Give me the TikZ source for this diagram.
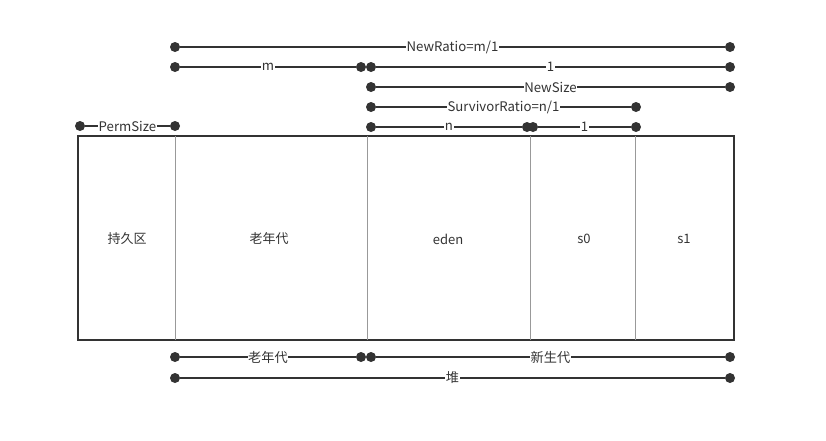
\documentclass[tikz,border=0pt]{standalone}
\usepackage{fontspec}
\setmainfont{Noto Sans CJK SC}
\definecolor{ink}{HTML}{333333}
\definecolor{thin}{HTML}{999999}
\begin{document}
\begin{tikzpicture}[x=1pt,y=-1pt,
  dot/.style={circle,fill=ink,inner sep=0pt,minimum size=10pt},
  dim/.style={draw=ink,line width=1.8pt},
  lbl/.style={fill=white,inner sep=0.5pt,text=ink,font=\fontsize{13.2}{15}\selectfont},
  cell/.style={text=ink,font=\fontsize{13}{15}\selectfont},
  divider/.style={draw=thin,line width=0.6pt}]
\useasboundingbox (0,0) rectangle (826,440);
% main box
\node[draw=ink,line width=1.8pt,minimum width=656pt,minimum height=204pt,inner sep=0pt] (box) at (406,238) {};
\coordinate (d1t) at (175,136); \coordinate (d1b) at (175,340);
\coordinate (d2t) at (367,136); \coordinate (d2b) at (367,340);
\coordinate (d3t) at (530,136); \coordinate (d3b) at (530,340);
\coordinate (d4t) at (635,136); \coordinate (d4b) at (635,340);
\draw[divider] (d1t) -- (d1b);
\draw[divider] (d2t) -- (d2b);
\draw[divider] (d3t) -- (d3b);
\draw[divider] (d4t) -- (d4b);
\node[cell] (perm) at (127,239) {持久区};
\node[cell] (old) at (269,239) {老年代};
\node[cell] (eden) at (448,239) {eden};
\node[cell] (s0) at (584,239) {s0};
\node[cell] (s1) at (684,239) {s1};
% row 1
\node[dot] (r1a) at (175,47) {}; \node[dot] (r1b) at (730,47) {};
\draw[dim] (r1a) -- (r1b) node[lbl,midway] (l1) {NewRatio=m/1};
% row 2
\node[dot] (r2a) at (175,67) {}; \node[dot] (r2b) at (361,67) {};
\node[dot] (r2c) at (371,67) {}; \node[dot] (r2d) at (730,67) {};
\draw[dim] (r2a) -- (r2b) node[lbl,midway] (l2) {m};
\draw[dim] (r2c) -- (r2d) node[lbl,midway] (l3) {1};
% row 3
\node[dot] (r3a) at (371,87) {}; \node[dot] (r3b) at (730,87) {};
\draw[dim] (r3a) -- (r3b) node[lbl,midway] (l4) {NewSize};
% row 4
\node[dot] (r4a) at (371,107) {}; \node[dot] (r4b) at (636,107) {};
\draw[dim] (r4a) -- (r4b) node[lbl,midway] (l5) {SurvivorRatio=n/1};
% row 5
\node[dot] (r5a) at (80,126) {}; \node[dot] (r5b) at (175,126) {};
\draw[dim] (r5a) -- (r5b) node[lbl,midway] (l6) {PermSize};
\node[dot] (r5c) at (371,127) {}; \node[dot] (r5d) at (527,127) {};
\node[dot] (r5e) at (533,127) {}; \node[dot] (r5f) at (636,127) {};
\draw[dim] (r5c) -- (r5d) node[lbl,midway] (l7) {n};
\draw[dim] (r5e) -- (r5f) node[lbl,midway] (l8) {1};
% bottom rows
\node[dot] (b1a) at (175,357) {}; \node[dot] (b1b) at (361,357) {};
\node[dot] (b1c) at (371,357) {}; \node[dot] (b1d) at (730,357) {};
\draw[dim] (b1a) -- (b1b) node[lbl,midway] (l9) {老年代};
\draw[dim] (b1c) -- (b1d) node[lbl,midway] (l10) {新生代};
\node[dot] (b2a) at (175,378) {}; \node[dot] (b2b) at (730,378) {};
\draw[dim] (b2a) -- (b2b) node[lbl,midway] (l11) {堆};
\end{tikzpicture}
\end{document}
